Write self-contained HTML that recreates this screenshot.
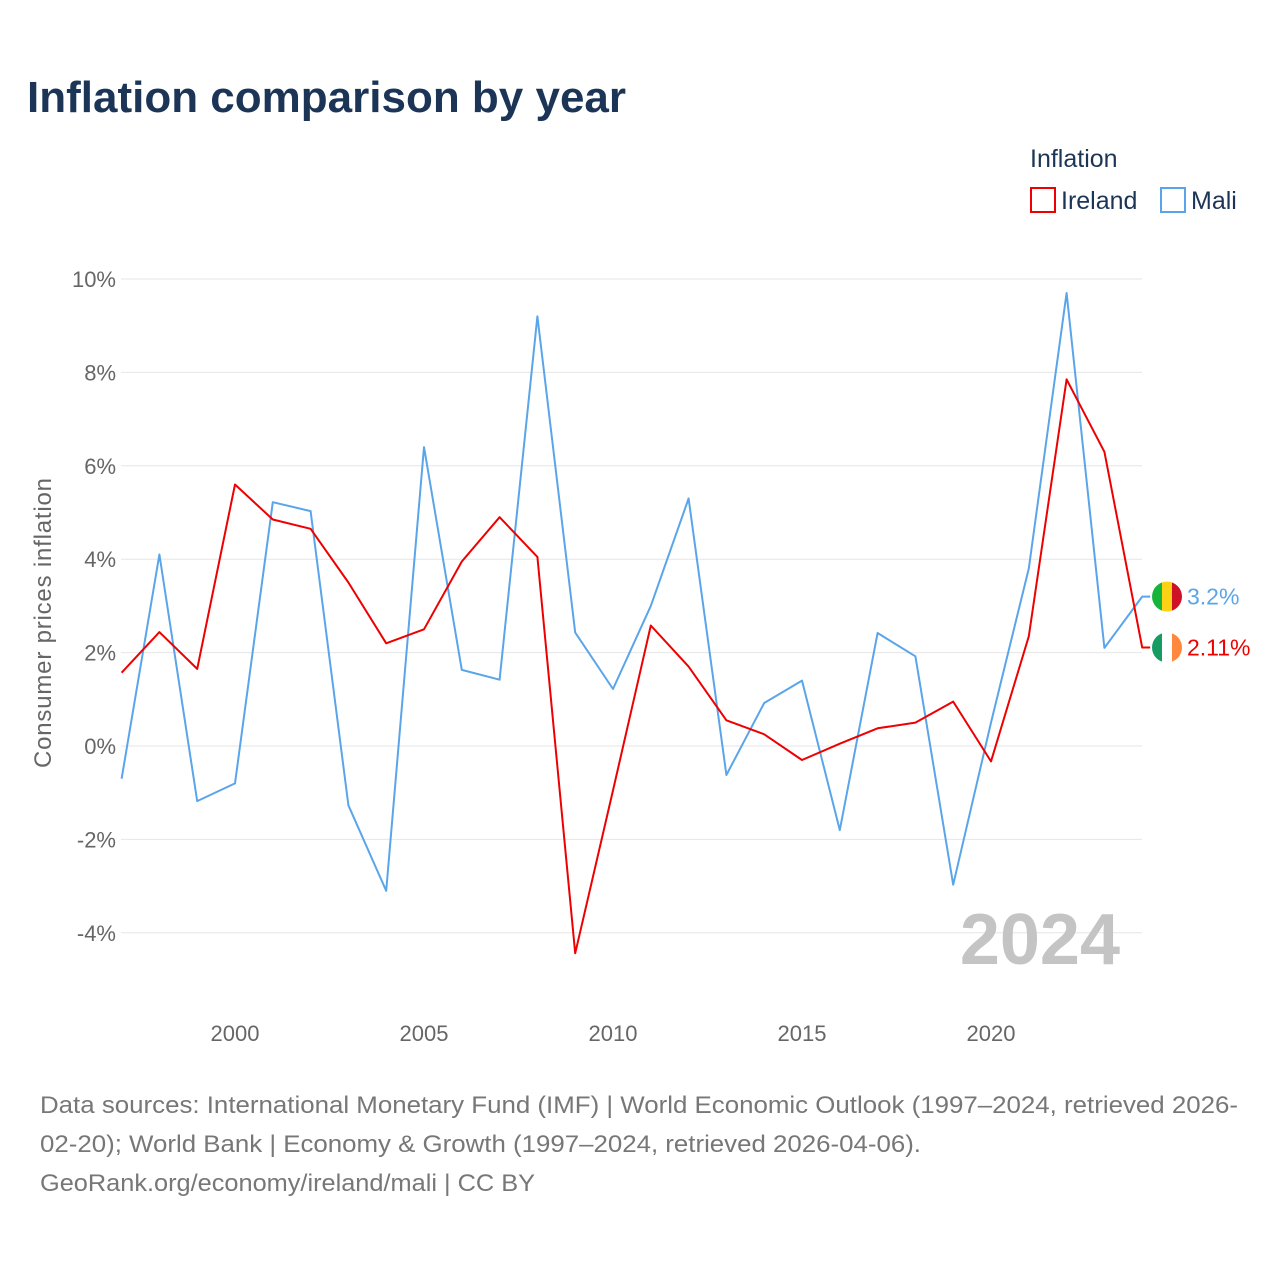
<!DOCTYPE html>
<html><head><meta charset="utf-8">
<style>
body{margin:0;background:#fff;font-family:"Liberation Sans",sans-serif;}
svg text{font-family:"Liberation Sans",sans-serif;}
</style></head>
<body>
<svg width="1280" height="1280" viewBox="0 0 1280 1280">
<text x="27" y="112" font-size="44" font-weight="bold" fill="#1c3557">Inflation comparison by year</text>
<text x="1030" y="167" font-size="25" fill="#1c3557">Inflation</text>
<g><rect x="1031" y="188" width="24" height="24" fill="none" stroke="#ee0000" stroke-width="2"/><text x="1061" y="209" font-size="25" fill="#1c3557">Ireland</text></g>
<g><rect x="1161" y="188" width="24" height="24" fill="none" stroke="#5aa5ea" stroke-width="2"/><text x="1191" y="209" font-size="25" fill="#1c3557">Mali</text></g>
<g id="grid"></g>
<text x="1120" y="964" font-size="72" font-weight="bold" fill="#c4c4c4" text-anchor="end">2024</text>
<text transform="translate(51,623) rotate(-90)" font-size="24" fill="#666" text-anchor="middle" textLength="290">Consumer prices inflation</text>
<g id="series"></g>
<g font-size="24" fill="#777">
<text x="40" y="1113" textLength="1198" lengthAdjust="spacingAndGlyphs">Data sources: International Monetary Fund (IMF) | World Economic Outlook (1997–2024, retrieved 2026-</text>
<text x="40" y="1152" textLength="881" lengthAdjust="spacingAndGlyphs">02-20); World Bank | Economy &amp; Growth (1997–2024, retrieved 2026-04-06).</text>
<text x="40" y="1191" textLength="495" lengthAdjust="spacingAndGlyphs">GeoRank.org/economy/ireland/mali | CC BY</text>
</g>
</svg>
<script>
const years=[1997,1998,1999,2000,2001,2002,2003,2004,2005,2006,2007,2008,2009,2010,2011,2012,2013,2014,2015,2016,2017,2018,2019,2020,2021,2022,2023,2024];
const ireland=[1.57,2.44,1.65,5.6,4.85,4.65,3.5,2.2,2.5,3.95,4.9,4.05,-4.44,-0.95,2.58,1.7,0.55,0.25,-0.3,0.05,0.38,0.5,0.95,-0.33,2.35,7.85,6.3,2.11];
const mali=[-0.7,4.1,-1.18,-0.8,5.22,5.03,-1.27,-3.1,6.4,1.63,1.42,9.2,2.43,1.22,3.0,5.3,-0.62,0.92,1.4,-1.8,2.42,1.92,-2.97,0.5,3.8,9.7,2.1,3.2];
const yTicks=[-4,-2,0,2,4,6,8,10];
const xTicks=[2000,2005,2010,2015,2020];
const NS="http://www.w3.org/2000/svg";
const x=v=>121.6+(v-1997)*37.8;
const y=v=>746-v*46.7;
const grid=document.getElementById('grid'),ser=document.getElementById('series');
function mk(tag,attrs,parent){const e=document.createElementNS(NS,tag);for(const k in attrs)e.setAttribute(k,attrs[k]);parent.appendChild(e);return e;}
yTicks.forEach(t=>{
 const l=mk('line',{x1:121,x2:1142,y1:y(t),y2:y(t),stroke:'#e6e6e6','stroke-width':1},grid);
 
 
 const tx=mk('text',{x:116,y:y(t)+8,'font-size':22,fill:'#666','text-anchor':'end'},grid);
 tx.textContent=t+'%';
 
 
});
xTicks.forEach(t=>{
 const tx=mk('text',{x:x(t),y:1041,'font-size':22,fill:'#666','text-anchor':'middle'},grid);
 tx.textContent=t;
 
 
});
function line(vals,color,name){
 const pts=vals.map((v,i)=>x(years[i]).toFixed(1)+','+y(v).toFixed(1));
 const last=vals[vals.length-1];
 pts.push((x(years[years.length-1])+8).toFixed(1)+','+y(last).toFixed(1));
 const p=mk('polyline',{points:pts.join(' '),fill:'none',stroke:color,'stroke-width':2,'stroke-linejoin':'round'},ser);
 
 
}
line(mali,'#5aa5ea','mali');
line(ireland,'#ee0000','ireland');
function flag(cy,cols,name){
 const g=mk('g',{},ser);
 
 
 const cid='c'+name;
 const cp=mk('clipPath',{id:cid},g);mk('circle',{cx:1167,cy:cy,r:15},cp);
 cols.forEach((c,i)=>mk('rect',{x:1152+i*10,y:cy-15,width:10,height:30,fill:c,'clip-path':'url(#'+cid+')'},g));
}
const mLast=mali[mali.length-1],iLast=ireland[ireland.length-1];
flag(y(mLast),['#14b53a','#fcd116','#ce1126'],'mali');
flag(y(iLast),['#169b62','#ffffff','#ff883e'],'ireland');
const lm=mk('text',{x:1187,y:y(mLast)+8,'font-size':23,fill:'#5aa5ea'},ser);lm.textContent=mLast+'%';


const li=mk('text',{x:1187,y:y(iLast)+8,'font-size':23,fill:'#ee0000'},ser);li.textContent=iLast+'%';


</script>
</body></html>
